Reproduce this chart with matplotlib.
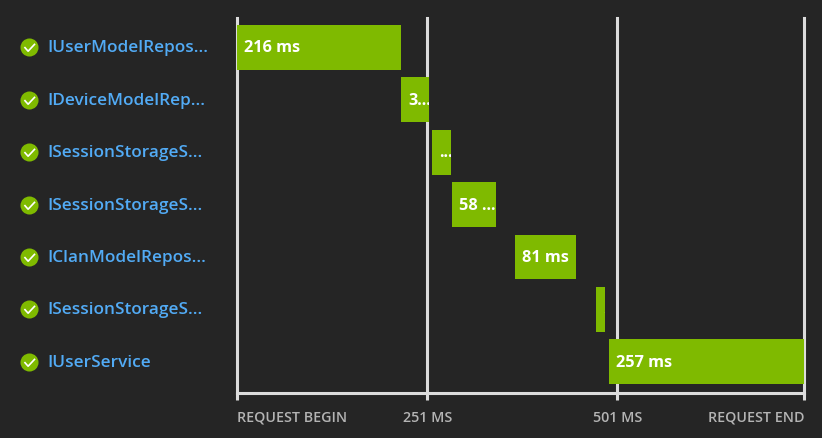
import matplotlib
matplotlib.use('Agg')
import matplotlib.pyplot as plt
from matplotlib.path import Path
from matplotlib.transforms import blended_transform_factory

W, H = 822, 439

names = ['IUserModelRepos...', 'IDeviceModelRep...', 'ISessionStorageS...',
         'ISessionStorageS...', 'IClanModelRepos...', 'ISessionStorageS...',
         'IUserService']
starts = [0, 216, 257, 283, 366, 473, 490]
durations = [216, 37, 25, 58, 81, 12, 257]
bar_labels = ['216 ms', '3...', '...', '58 ...', '81 ms', '.', '257 ms']

tick_values = [0, 251, 501, 747]
tick_labels = ['REQUEST BEGIN', '251 MS', '501 MS', 'REQUEST END']
tick_aligns = ['left', 'center', 'center', 'right']

BG = '#252525'
GREEN = '#7fba00'
BLUE = '#52abf5'
LINE = '#dcdcdc'
GREY = '#b4b4b4'
FONT = 'Open Sans'

fig = plt.figure(figsize=(W / 100, H / 100), dpi=100, facecolor=BG)
ax = fig.add_axes([236.6 / W, 1 - 393.5 / H, (804 - 236.6) / W, (393.5 - 18.5) / H], facecolor=BG)

ax.set_xlim(0, tick_values[-1])
ax.set_ylim(6.581, -0.562)

# time grid lines sit behind the bars
ax.set_xticks(tick_values)
ax.set_xticklabels(tick_labels, fontsize=10.3, color=GREY, family=FONT, weight='semibold')
for lab, a in zip(ax.get_xticklabels(), tick_aligns):
    lab.set_ha(a)
ax.tick_params(axis='x', length=5, width=2.2, color=LINE, pad=7.5)
ax.grid(axis='x', color=LINE, linewidth=2.2, zorder=1, clip_on=False)
ax.set_axisbelow(True)
ax.tick_params(axis='y', left=False, labelleft=False)

for side in ['top', 'right', 'left']:
    ax.spines[side].set_visible(False)
ax.spines['bottom'].set_color(LINE)
ax.spines['bottom'].set_linewidth(2.2)

rows = list(range(len(names)))
bars = ax.barh(rows, durations, left=starts, height=45 / 52.5, color=GREEN, zorder=3)

# labels inside the bars get cut off at the bar edge
for bar, s, r, t in zip(bars, starts, rows, bar_labels):
    txt = ax.annotate(t, (s, r), xytext=(5.5, 0), textcoords='offset points', va='center',
                      ha='left', color='white', fontsize=11.7, family=FONT, weight='bold',
                      zorder=4)
    txt.set_clip_path(bar)

# status icons and names left of the plot
check = Path([(-0.55, 0.05), (-0.15, -0.4), (0.6, 0.4)])
tr = blended_transform_factory(fig.transFigure, ax.transData)
for r, n in zip(rows, names):
    ax.plot([29 / W], [r], transform=tr, marker='o', ms=13, color=GREEN, mew=0, clip_on=False)
    ax.plot([29 / W], [r], transform=tr, marker=check, ms=8, mfc='none', mec='white', mew=1.2,
            clip_on=False)
    ax.text(47.5 / W, r, n, transform=tr, va='center', ha='left', color=BLUE, fontsize=12.4,
            family=FONT, weight='semibold')

fig.savefig('out.png', dpi=100, facecolor=BG)
